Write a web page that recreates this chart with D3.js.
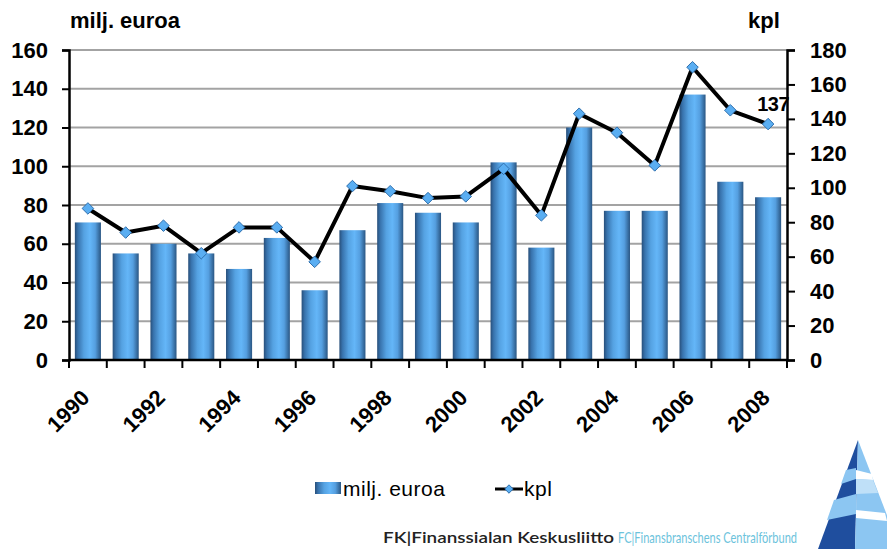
<!DOCTYPE html>
<html>
<head>
<meta charset="utf-8">
<script src="https://cdn.jsdelivr.net/npm/d3@7"></script>
<style>
  html, body { margin: 0; padding: 0; background: #fff; }
  svg { display: block; font-family: "Liberation Sans", Arial, sans-serif; }
</style>
</head>
<body>
<svg id="chart" width="887" height="549"></svg>
<script>
// ---- data ----
const years = ["1990","1991","1992","1993","1994","1995","1996","1997","1998","1999",
               "2000","2001","2002","2003","2004","2005","2006","2007","2008"];
const miljEuroa = [71, 55, 60, 55, 47, 63, 36, 67, 81, 76, 71, 102, 58, 120, 77, 77, 137, 92, 84];
const kpl = [88, 74, 78, 62, 77, 77, 57, 101, 98, 94, 95, 111, 84, 143, 132, 113, 170, 145, 137];
const leftTicks = [0, 20, 40, 60, 80, 100, 120, 140, 160];
const rightTicks = [0, 20, 40, 60, 80, 100, 120, 140, 160, 180];
const xLabels = ["1990","1992","1994","1996","1998","2000","2002","2004","2006","2008"];
const lastLabel = "137";

const svg = d3.select("#chart");
const L = 69, R = 787, T = 50, B = 360;

const x = d3.scaleBand().domain(years).range([L, R]).paddingInner(0.31).paddingOuter(0.155);
const yL = d3.scaleLinear().domain([0, 160]).range([B, T]);
const yR = d3.scaleLinear().domain([0, 180]).range([B, T]);

// gradient
const defs = svg.append("defs");
const g = defs.append("linearGradient").attr("id", "barGrad").attr("x1", "0").attr("x2", "1").attr("y1", "0").attr("y2", "0");
[["0%", "#284f7a"], ["12%", "#3873ad"], ["35%", "#55a2e2"], ["58%", "#64b6f8"], ["78%", "#559fe0"], ["100%", "#2a5683"]]
  .forEach(([o, c]) => g.append("stop").attr("offset", o).attr("stop-color", c));

// gridlines
svg.append("g").selectAll("line").data(leftTicks.filter(d => d > 0)).join("line")
  .attr("x1", L).attr("x2", R).attr("y1", d => yL(d)).attr("y2", d => yL(d))
  .attr("stroke", "#a3a3a3").attr("stroke-width", 1.8);

// bars
svg.append("g").selectAll("rect").data(years).join("rect")
  .attr("x", d => x(d)).attr("width", x.bandwidth())
  .attr("y", (d, i) => yL(miljEuroa[i])).attr("height", (d, i) => B - yL(miljEuroa[i]))
  .attr("fill", "url(#barGrad)");

// line
const cx = d => x(d) + x.bandwidth() / 2;
const line = d3.line().x((d, i) => cx(years[i])).y(d => yR(d));
svg.append("path").datum(kpl).attr("d", line).attr("fill", "none")
  .attr("stroke", "#000").attr("stroke-width", 4).attr("stroke-linejoin", "round");
const diamond = d3.symbol().type(d3.symbolDiamond2).size(85);
svg.append("g").selectAll("path").data(kpl).join("path")
  .attr("d", diamond)
  .attr("transform", (d, i) => `translate(${cx(years[i])},${yR(d)})`)
  .attr("fill", "#5aaef2").attr("stroke", "#2f6fad").attr("stroke-width", 1);

// last point label
svg.append("text").attr("x", cx(years[years.length - 1]) + 5).attr("y", yR(kpl[kpl.length - 1]) - 13)
  .attr("text-anchor", "middle").attr("font-weight", "bold").attr("font-size", 20)
  .attr("letter-spacing", -0.5).text(lastLabel);

// axes
const axisStyle = sel => {
  sel.select(".domain").attr("stroke", "#000").attr("stroke-width", 2.5);
  sel.selectAll(".tick line").attr("stroke", "#000").attr("stroke-width", 2);
  sel.selectAll(".tick text").attr("font-size", 22).attr("font-weight", "bold")
    .attr("font-family", "'Liberation Sans', Arial, sans-serif").attr("fill", "#000");
};
svg.append("g").attr("transform", `translate(${L},0)`)
  .call(d3.axisLeft(yL).tickValues(leftTicks).tickSize(7).tickSizeOuter(7).tickPadding(14))
  .call(axisStyle);
svg.append("g").attr("transform", `translate(${R},0)`)
  .call(d3.axisRight(yR).tickValues(rightTicks).tickSize(8).tickSizeOuter(8).tickPadding(15))
  .call(axisStyle);

// x axis
const step = x.step();
const boundaries = years.map(d => x(d) - step * x.paddingInner() / 2).concat([R]);
const xg = svg.append("g");
xg.append("line").attr("x1", L).attr("x2", R).attr("y1", B).attr("y2", B)
  .attr("stroke", "#000").attr("stroke-width", 2.5);
xg.selectAll("line.tk").data(boundaries).join("line").attr("class", "tk")
  .attr("x1", d => d).attr("x2", d => d).attr("y1", B).attr("y2", B + 8)
  .attr("stroke", "#000").attr("stroke-width", 2);
xg.selectAll("text").data(xLabels).join("text")
  .attr("transform", d => `translate(${cx(d) + 3},${B + 39}) rotate(-45)`)
  .attr("text-anchor", "end").attr("font-size", 22).attr("font-weight", "bold").text(d => d);

// axis titles
svg.append("text").attr("x", 70).attr("y", 28).attr("font-size", 22).attr("font-weight", "bold").text("milj. euroa");
svg.append("text").attr("x", 764).attr("y", 28).attr("text-anchor", "middle").attr("font-size", 22).attr("font-weight", "bold").text("kpl");

// legend
const lg = svg.append("g");
lg.append("rect").attr("x", 315).attr("y", 482).attr("width", 26).attr("height", 12).attr("fill", "url(#barGrad)");
lg.append("text").attr("x", 343).attr("y", 496).attr("font-size", 21).attr("letter-spacing", 0.5).text("milj. euroa");
lg.append("line").attr("x1", 495).attr("x2", 523).attr("y1", 489).attr("y2", 489).attr("stroke", "#000").attr("stroke-width", 3);
lg.append("path").attr("d", d3.symbol().type(d3.symbolDiamond2).size(45)).attr("transform", "translate(509,489)")
  .attr("fill", "#5aaef2").attr("stroke", "#2f6fad").attr("stroke-width", 1);
lg.append("text").attr("x", 524).attr("y", 496).attr("font-size", 21).attr("letter-spacing", 0.5).text("kpl");

// footer
svg.append("text").attr("x", 383).attr("y", 543).attr("font-family", "Lato, 'Open Sans', sans-serif")
  .attr("font-size", 15).attr("font-weight", 600).attr("fill", "#222").attr("textLength", 231).attr("lengthAdjust", "spacingAndGlyphs")
  .text("FK|Finanssialan Keskusliitto");
svg.append("text").attr("x", 618).attr("y", 543).attr("font-family", "Lato, 'Open Sans', sans-serif")
  .attr("font-size", 15).attr("fill", "#6cc3dc").attr("textLength", 179).attr("lengthAdjust", "spacingAndGlyphs")
  .text("FC|Finansbranschens Centralförbund");

// logo (decorative)
const logo = svg.append("g");
const polys = [
  ["#1f4e9e", "858,440 855,549 818,549"],
  ["#8cc6f2", "858,440 855,549 900,549"],
  ["#8cc6f2", "846,470 856,468 856,479 841,484"],
  ["#8cc6f2", "834,500 856,494 856,514 827,520"],
  ["#ffffff", "856,470 872,474 873,480 856,479"],
  ["#ffffff", "856,510 885,513 887,521 856,518"],
  ["#bfe0f8", "856,479 873,480 878,493 856,494"]
];
polys.forEach(([c, p]) => logo.append("polygon").attr("points", p).attr("fill", c));
</script>
</body>
</html>
